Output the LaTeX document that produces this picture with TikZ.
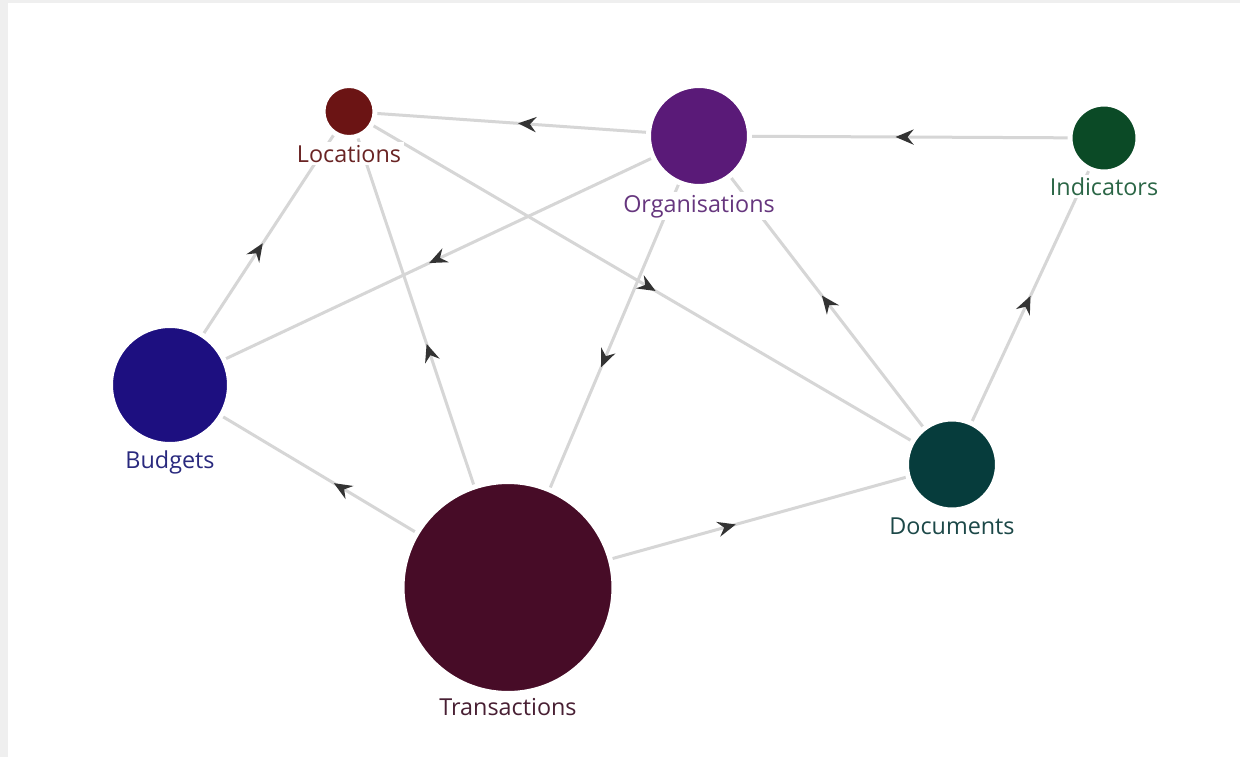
\documentclass[tikz,border=0pt]{standalone}
\usepackage{fontspec}
\setmainfont{Open Sans}
\usetikzlibrary{arrows.meta,decorations.markings,backgrounds}
\definecolor{locC}{HTML}{6B1414}
\definecolor{orgC}{HTML}{5A1A78}
\definecolor{indC}{HTML}{0B4A26}
\definecolor{budC}{HTML}{1D0F80}
\definecolor{docC}{HTML}{063C3C}
\definecolor{traC}{HTML}{470C27}
\definecolor{locT}{HTML}{6A2424}
\definecolor{orgT}{HTML}{66367E}
\definecolor{indT}{HTML}{2B6646}
\definecolor{budT}{HTML}{29297E}
\definecolor{docT}{HTML}{1C4848}
\definecolor{traT}{HTML}{481F33}
\definecolor{edgeC}{HTML}{D6D6D6}
\definecolor{tipC}{HTML}{333333}
\definecolor{frameC}{HTML}{EFEFEF}
\begin{document}
\begin{tikzpicture}[x=0.02cm,y=-0.02cm]
	\tikzset{dot/.style={circle,inner sep=0pt,draw=white,line width=0.1cm,fill=#1},
		lbl/.style={fill=white,inner sep=1.5pt,anchor=base,font=\fontsize{13.3}{16}\selectfont},
		edge/.style={draw=edgeC,line width=0.06cm,postaction={decorate},
			decoration={markings,mark=at position 0.5 with {\pgftransformxshift{0.12cm}\arrow{Stealth[length=0.36cm,width=0.3cm,inset=0.12cm,color=tipC]}}}}}
	\useasboundingbox(0,0)rectangle(1240,757);
	\node[dot=locC,minimum size=1.04cm](loc) at (349,111.5){};
	\node[dot=orgC,minimum size=2.02cm](org) at (699,136){};
	\node[dot=indC,minimum size=1.36cm](ind) at (1104,138){};
	\node[dot=budC,minimum size=2.38cm](bud) at (170,385){};
	\node[dot=docC,minimum size=1.82cm](doc) at (952,464.5){};
	\node[dot=traC,minimum size=4.24cm](tra) at (508,587.5){};
	%% nhan duoi moi nut
	\path(loc)++(0,50.5)node[lbl,text=locT](locL){Locations};
	\path(org)++(0,76)node[lbl,text=orgT](orgL){Organisations};
	\path(ind)++(0,57)node[lbl,text=indT](indL){Indicators};
	\path(bud)++(0,83)node[lbl,text=budT](budL){Budgets};
	\path(doc)++(0,69.5)node[lbl,text=docT](docL){Documents};
	\path(tra)++(0,127.5)node[lbl,text=traT](traL){Transactions};
	\begin{scope}[on background layer]
		\fill[frameC](0,0)rectangle(1240,757);
		\fill[white](8,3)rectangle(1240,757);
		\foreach \x/\y in {
			org/loc,ind/org,
			bud/loc,org/bud,tra/loc,
			org/tra,loc/doc,doc/org,
			doc/ind,tra/bud,tra/doc}
		\draw[edge](\x.center)--(\y.center);
	\end{scope}
\end{tikzpicture}
\end{document}
